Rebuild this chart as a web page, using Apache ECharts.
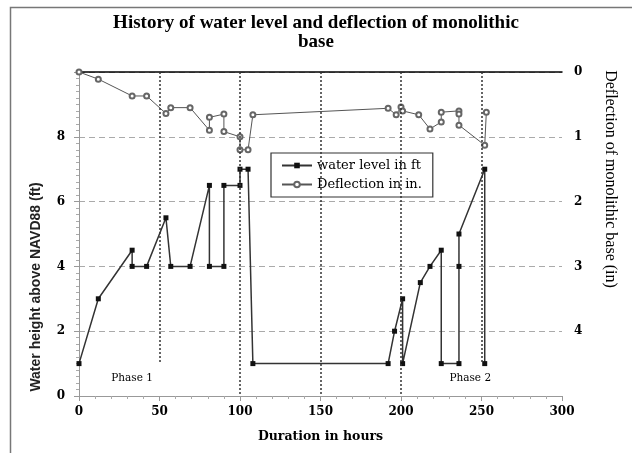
<!DOCTYPE html>
<html>
<head>
<meta charset="utf-8">
<script src="https://cdn.jsdelivr.net/npm/echarts@6/dist/echarts.min.js"></script>
<style>
  html, body { margin: 0; padding: 0; background: #fff; }
  #chart { width: 632px; height: 453px; }
</style>
</head>
<body>
<div id="chart"></div>
<script>
// water level (ft) vs hours
const waterHours = [0, 12, 33, 33, 42, 54, 57, 69, 81, 81, 90, 90, 100, 100, 105, 108, 192, 196, 201, 201, 212, 218, 225, 225, 236, 236, 236, 252, 252]
const waterLevel = [1, 3, 4.5, 4, 4, 5.5, 4, 4, 6.5, 4, 4, 6.5, 6.5, 7, 7, 1, 1, 2, 3, 1, 3.5, 4, 4.5, 1, 1, 4, 5, 7, 1]

// deflection (in) vs hours
const deflHours = [0, 12, 33, 42, 54, 57, 69, 81, 81, 90, 90, 100, 100, 105, 108, 192, 197, 200, 201, 211, 218, 225, 225, 236, 236, 236, 252, 253]
const deflection = [0, 0.11, 0.37, 0.37, 0.64, 0.55, 0.55, 0.9, 0.7, 0.65, 0.92, 1.0, 1.2, 1.2, 0.66, 0.56, 0.66, 0.54, 0.6, 0.66, 0.88, 0.77, 0.62, 0.6, 0.65, 0.82, 1.13, 0.62]

// vertical dotted dividers (hours) and where they stop at the bottom (ft)
const dividerHours = [50, 100, 150, 200, 250]
const dividerBottom = [1, 0, 0, 0, 1]

const phaseNames = ['Phase 1', 'Phase 2']
const phaseHours = [33, 243]

const serif = 'Liberation Serif'
const wide = 'DejaVu Serif'

const chart = echarts.init(document.getElementById('chart'))

chart.setOption({
  animation: false,
  backgroundColor: '#ffffff',
  title: {
    text: 'History of water level and deflection of monolithic\nbase',
    left: 'center',
    top: 9,
    textStyle: { fontFamily: serif, fontWeight: 'bold', fontSize: 19, color: '#000', lineHeight: 19 }
  },
  graphic: [{
    type: 'rect',
    left: 8,
    top: 5,
    shape: { width: 700, height: 500 },
    style: { fill: 'none', stroke: '#777', lineWidth: 1.5 },
    silent: true
  }],
  grid: { left: 79, right: 70, top: 72, bottom: 57 },
  legend: {
    orient: 'vertical',
    left: 271,
    top: 153,
    padding: [6, 11, 6, 10],
    itemGap: 6,
    itemWidth: 30,
    itemHeight: 7,
    borderColor: '#333',
    borderWidth: 1.2,
    backgroundColor: '#fff',
    textStyle: { fontFamily: wide, fontSize: 13, color: '#000' },
    data: ['water level in ft', 'Deflection in in.']
  },
  xAxis: [{
    type: 'value',
    min: 0,
    max: 300,
    interval: 50,
    name: 'Duration in hours',
    nameLocation: 'middle',
    nameGap: 34,
    nameTextStyle: { fontFamily: wide, fontWeight: 'bold', fontSize: 12.5, color: '#000' },
    axisLine: { lineStyle: { color: '#999' } },
    axisTick: { length: 5, lineStyle: { color: '#999' } },
    minorTick: { show: true, splitNumber: 5, length: 3, lineStyle: { color: '#aaa' } },
    axisLabel: { margin: 10, fontFamily: wide, fontWeight: 'bold', fontSize: 12, color: '#000' },
    splitLine: { show: false }
  }, {
    type: 'value',
    position: 'top',
    min: 0,
    max: 300,
    axisLine: { lineStyle: { color: '#000', width: 1.5 } },
    axisTick: { show: false },
    axisLabel: { show: false },
    splitLine: { show: false }
  }],
  yAxis: [{
    type: 'value',
    min: 0,
    max: 10,
    interval: 2,
    name: 'Water height above NAVD88 (ft)',
    nameLocation: 'middle',
    nameRotate: 90,
    nameGap: 36,
    nameTextStyle: {
      fontFamily: 'Liberation Sans', fontWeight: 'bold', fontSize: 14, color: '#222',
      padding: [0, 106, 0, 0]
    },
    axisLine: { show: true, lineStyle: { color: '#999' } },
    axisTick: { show: true, length: 4, lineStyle: { color: '#999' } },
    minorTick: { show: true, splitNumber: 5, length: 3, lineStyle: { color: '#aaa' } },
    axisLabel: { margin: 14, showMaxLabel: false, fontFamily: wide, fontWeight: 'bold', fontSize: 12, color: '#000' },
    splitLine: { show: true, lineStyle: { color: '#aaa', type: [6, 4] } }
  }, {
    type: 'value',
    position: 'right',
    inverse: true,
    min: 0,
    max: 5,
    interval: 1,
    name: 'Deflection of monolithic base (in)',
    nameLocation: 'middle',
    nameRotate: -90,
    nameGap: 40,
    nameTextStyle: {
      fontFamily: serif, fontSize: 16, color: '#000',
      padding: [0, 110, 0, 0]
    },
    axisLine: { show: true, lineStyle: { color: '#999' } },
    axisTick: { show: true, inside: true, length: 5, lineStyle: { color: '#999' } },
    minorTick: { show: true, splitNumber: 10, length: 3, lineStyle: { color: '#aaa' } },
    axisLabel: { margin: 12, showMaxLabel: false, fontFamily: wide, fontWeight: 'bold', fontSize: 12, color: '#000' },
    splitLine: { show: false }
  }],
  series: [
    {
      name: 'water level in ft',
      type: 'line',
      yAxisIndex: 0,
      data: waterHours.map((h, i) => [h, waterLevel[i]]),
      symbol: 'rect',
      symbolSize: 5,
      itemStyle: { color: '#111' },
      lineStyle: { color: '#333', width: 1.5 },
      z: 3,
      markLine: {
        silent: true,
        symbol: 'none',
        label: { show: false },
        lineStyle: { color: '#333', type: [2, 2], width: 1.5 },
        data: dividerHours.map((h, i) => [{ coord: [h, 10] }, { coord: [h, dividerBottom[i]] }])
      },
      markPoint: {
        silent: true,
        symbol: 'circle',
        symbolSize: 0,
        label: {
          show: true,
          formatter: '{b}',
          fontFamily: wide,
          fontSize: 10.5,
          color: '#000'
        },
        data: phaseNames.map((n, i) => ({ name: n, coord: [phaseHours[i], 0.55] }))
      }
    },
    {
      name: 'Deflection in in.',
      type: 'line',
      yAxisIndex: 1,
      data: deflHours.map((h, i) => [h, deflection[i]]),
      symbol: 'emptyCircle',
      symbolSize: 5,
      itemStyle: { color: '#666', borderWidth: 1 },
      lineStyle: { color: '#555', width: 1 },
      z: 4
    }
  ]
})
</script>
</body>
</html>
